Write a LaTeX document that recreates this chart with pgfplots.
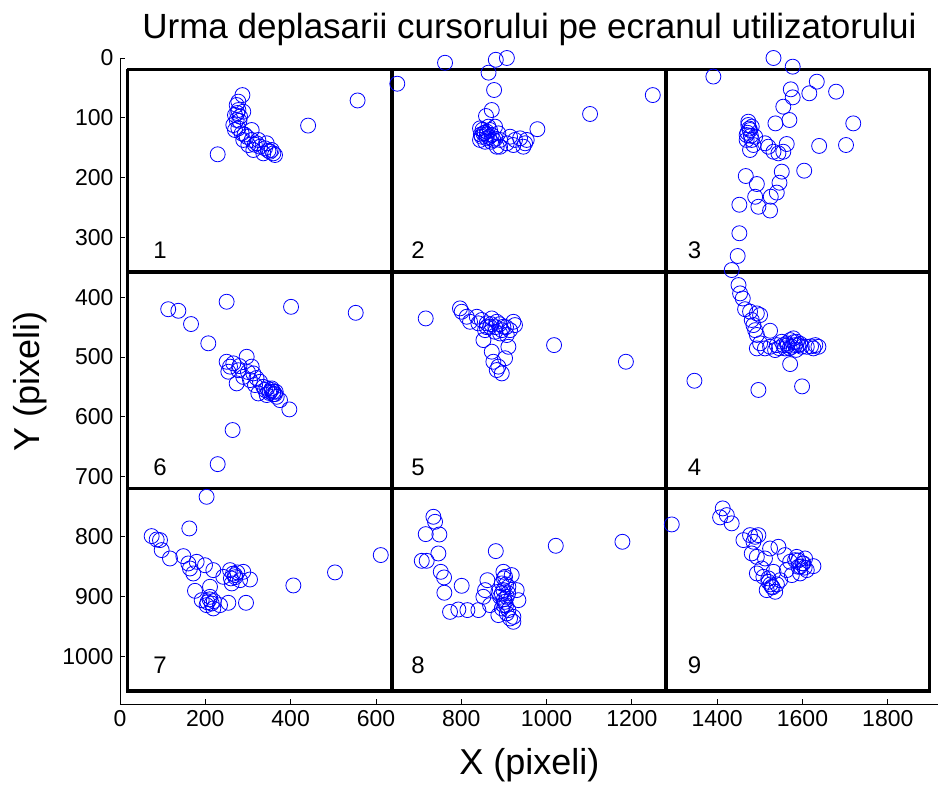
\documentclass[border=0pt]{standalone}
\usepackage{pgfplots}
\pgfplotsset{compat=1.18}
\usepackage{fontspec}
\setmainfont{Liberation Sans}
\definecolor{mblue}{RGB}{0,0,255}
\tikzset{num/.style={font=\fontsize{24}{28}\selectfont}}
\begin{document}
\begin{tikzpicture}
\useasboundingbox (0,0) rectangle (938pt,786pt);
\begin{axis}[
  at={(120pt,82pt)}, anchor=south west,
  scale only axis, width=819pt, height=646pt,
  xmin=0, xmax=1920, ymin=0, ymax=1080,
  y dir=reverse,
  clip=false,
  axis x line=bottom, axis y line=left,
  axis line style={-, line width=0.8pt, black},
  tick align=inside, major tick length=5pt,
  tick style={black, line width=0.8pt},
  xtick={0,200,...,1800}, ytick={0,100,...,1000},
  /pgf/number format/assume math mode=true,
  /pgf/number format/1000 sep={},
  tick label style={font=\fontsize{23}{27}\selectfont},
  xticklabel style={yshift=-3pt},
  yticklabel style={xshift=-3pt},
  title={Urma deplasarii cursorului pe ecranul utilizatorului},
  title style={font=\fontsize{35}{41}\selectfont, at={(axis description cs:0.5,1.035)}, anchor=center},
  xlabel={X (pixeli)},
  xlabel style={font=\fontsize{36}{42}\selectfont, at={(axis description cs:0.5,-0.094)}, anchor=center},
  ylabel={Y (pixeli)},
  ylabel style={font=\fontsize{36}{42}\selectfont, at={(axis description cs:-0.110,0.5)}, anchor=center},
  pts/.style={only marks, mark=o, mark size=7.5pt, mark options={mblue, line width=0.8pt}},
]
% grid of screen regions
\addplot[black, line width=3.5pt] coordinates {(17,19) (1898,19) (1898,1058) (17,1058) (17,19)};
\addplot[black, line width=3.5pt] coordinates {(638,19) (638,1058)};
\addplot[black, line width=3.5pt] coordinates {(1280,19) (1280,1058)};
\addplot[black, line width=3.5pt] coordinates {(17,358) (1898,358)};
\addplot[black, line width=3.5pt] coordinates {(17,720) (1898,720)};
% cell 1
\addplot[pts] coordinates {
(287,62) (557,71) (441,113) (229,161) (277.5,73)
(273.5,78.6) (277.5,87) (269.6,95.3) (273.5,103.7) (265.7,112) (277.5,117.6)
(285.3,126) (297,131.6) (308.7,137) (320.4,142.6) (328.3,148.3) (340,151)
(351.7,156.7) (359.5,159.4) (363.4,162.2) (312.6,153.8) (300.9,145.5) (289,137)
(269.6,120.4) (281.4,98) (289,89.8) (308.7,120.4) (324.3,137) (343.9,142.6)
(355.7,153.8) (336,159.4) (280,105) (292,128) (316,145) (348,155) (275,92)
};
% cell 2
\addplot[pts] coordinates {
(650,43) (762,8) (881,3) (907,0) (864,24.5) (877,53.5) (1249,62) (1102,93.6)
(978.5,119) (871.5,87) (858,97)
(844,117.6) (851.9,126) (859.8,134.3) (867.5,120.4) (879.3,114.8) (887,126)
(875.3,137) (855.8,140) (848,131.6) (863.6,114.8) (891,137) (883.2,148.3)
(871.5,128.8) (844,137) (859.8,123.2) (914.4,131.6) (926,137) (937.9,134.3)
(949.6,142.6) (953.5,137) (906.7,142.6) (922.2,145.5) (945.6,148.3) (891,148.3)
(855,125) (865,132) (850,120) (870,140) (860,128) (846,128) (880,135)
};
% cell 3
\addplot[pts] coordinates {
(1532,0) (1577,14.5) (1391,31) (1633.5,39.6) (1678.8,56.3) (1616,59) (1572.5,52.4)
(1577,65.8) (1555,81.4) (1569.3,103.7) (1536.5,109.3) (1719,109.3) (1702,145.5)
(1639,147) (1563,143.8)
(1473,112) (1477,120.4) (1469,128.8) (1481,137) (1485,145.5) (1477,153.8)
(1473,106.5) (1481,114.8) (1469,137) (1489,131.6) (1475,118) (1479,130) (1471,125)
(1520,148.3) (1532,156.7) (1543.5,159.4) (1555,156.7) (1512,142.6)
(1604,188.4) (1551.4,190) (1546,208.5) (1539.7,225) (1525.6,231.9) (1524,255)
(1496.6,248.7) (1489,232) (1493,210.7) (1467,197.3) (1452,245.3) (1452,293)
(1448,331) (1434,354.5)
};
% cell 4
\addplot[pts] coordinates {
(1450,379.6) (1453.7,393.5) (1460,402) (1465.4,420) (1477,424) (1493,427)
(1500.6,429.8) (1481,438) (1485,446.5) (1489,455) (1493,463) (1524,456)
(1500.6,477) (1493,485.5) (1512,485.5) (1524,482.8) (1539.7,480) (1551.4,474.4)
(1563,477) (1571,471.6) (1578.6,468.7) (1586.5,474.4) (1590.4,480) (1574.9,482.8)
(1559,485.5) (1535.8,488.3) (1598.3,482.8) (1610,482.8) (1625.6,485.5)
(1637.3,482.8) (1582.7,480) (1571,511.7) (1346.6,539.6) (1496.6,555) (1599,549)
(1565,480) (1580,475) (1595,478) (1570,485) (1585,488) (1555,480) (1545,485)
(1620,482) (1630,480)
};
% cell 5
\addplot[pts] coordinates {
(716.7,435.4) (1017.6,480) (1186,507.8) (797,418.6) (801,424.2) (812.8,432.6)
(820.6,441) (836.4,432.6) (848,438) (859.8,443.6) (871.5,435.4) (883.2,441)
(898.8,449.3) (891,460.5) (906.7,463.2) (922.2,441) (926,446.5) (914.4,455)
(855.8,455) (852,471.6) (871.5,491) (910.5,482.8) (902.7,502) (875.3,507.8)
(887,516) (895,527.3) (883.2,521.7) (867.5,449.3) (879.3,457.7) (840.2,443.6)
(870,445) (880,450) (890,445) (860,450) (895,455) (905,450)
};
% cell 6
\addplot[pts] coordinates {
(113,420) (136.8,422.6) (250,407.5) (166.5,444.8) (207,477) (401,416) (552.6,426)
(264,622) (229,679) (397,587.5)
(250,507.8) (257.9,516) (254,524.5) (273.5,544) (297,499.5) (308.7,516)
(312.6,527.3) (304.8,538.5) (328.3,541.3) (336,549.7) (351.7,558) (359.5,558)
(343.9,563.5) (367.4,566.4) (375.1,572) (324.3,560.8) (289,533.2) (277.5,522)
(265.7,510.5) (316.5,546.8) (355.7,552.4) (363.4,561.9) (340,555)
(350,560) (355,555) (360,562) (345,552) (365,558) (320,535) (300,525) (280,515)
};
% cell 7
\addplot[pts] coordinates {
(203,733.6) (162.5,786.5) (74.2,799.3) (86,805) (93.8,806) (97.7,822.7)
(117.2,836.7) (148.5,832.8) (160.2,845) (164,853.4) (171.8,861.8) (179.7,842.3)
(199.3,848) (218.8,856.2) (211,884) (175.8,890.8) (242.2,867.4) (258,856.2)
(269.6,864.5) (281.4,873) (262,878.4) (289,859) (304.8,871.8) (295.4,910.8)
(254,910.8) (191.5,906.4) (203,914.7) (218.8,920.2) (234.5,914.7) (211,900.8)
(406.4,881.8) (504,860) (611.3,831)
(210,905) (215,912) (220,908) (205,910) (265,862) (270,868) (260,870) (275,860)
};
% cell 8
\addplot[pts] coordinates {
(734.7,767) (738.6,775.4) (716.7,796) (748.7,796.6) (746.4,828.3) (707.4,840.6)
(719,840.6) (752,859) (759.7,868.4) (760.4,894) (801,882.4) (773.7,926)
(793.2,922) (814.4,923) (840.2,923) (881,824.4) (1021.6,815.5) (1177.8,808.8)
(861.3,873) (855.8,889.6) (851.9,900.8) (867.5,914.7) (887,931.4)
(898.8,859) (902.7,867.4) (895,878.4) (898.8,889.6) (891,900.8) (902.7,909.2)
(895,920.2) (906.7,928.6) (914.4,937) (922.2,934.3) (930,889.6) (934,906.4)
(918.3,864.5) (910.5,884) (887,892.4) (906.7,900.8) (898.8,914.7) (910.5,923)
(922.2,942.6) (900,870) (905,880) (895,895) (900,905) (905,915) (910,895)
};
% cell 9
\addplot[pts] coordinates {
(1293.5,779.8) (1413,753) (1406.8,768) (1422.5,764.2) (1434,778) (1461.5,806)
(1477,797.7) (1488.9,800.5) (1496.6,797.7) (1485,808.8) (1481,828.3) (1493,834)
(1512,836.7) (1524,820) (1543.5,817.2) (1493,861.7) (1508.3,867.4) (1520,875.8)
(1528,884) (1536,892.4) (1516,889.6) (1532,859) (1547.5,873) (1559,831)
(1571,842.3) (1582.7,839.5) (1590.4,850.6) (1602,845) (1594.4,861.7) (1610,856.2)
(1625.6,849.5) (1575,864.5) (1563,856.2) (1586.5,834) (1606,836.7) (1504.5,853.4)
(1600,845) (1595,850) (1605,852) (1590,840) (1525,880) (1530,885) (1520,870) (1540,880)
};
% region numbers
\node[num] at (axis cs:94,322) {1};
\node[num] at (axis cs:699,322) {2};
\node[num] at (axis cs:1347,322) {3};
\node[num] at (axis cs:94,684) {6};
\node[num] at (axis cs:699,684) {5};
\node[num] at (axis cs:1347,684) {4};
\node[num] at (axis cs:94,1015) {7};
\node[num] at (axis cs:699,1015) {8};
\node[num] at (axis cs:1347,1015) {9};
\end{axis}
\end{tikzpicture}
\end{document}
